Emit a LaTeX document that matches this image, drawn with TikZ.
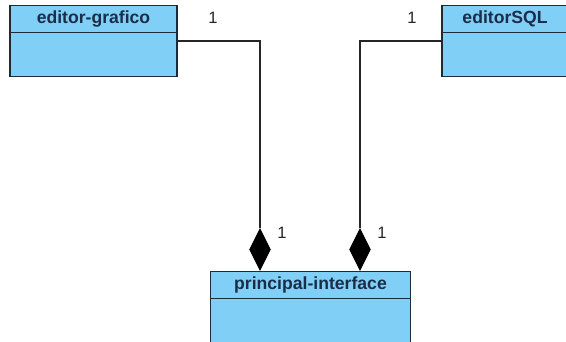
\documentclass[tikz,border=0pt]{standalone}
\usepackage{fontspec}
\setmainfont{Liberation Sans}
\usetikzlibrary{shapes.geometric}
\definecolor{classfill}{HTML}{80CFF7}
\definecolor{classline}{HTML}{1C2B3C}
\definecolor{classtext}{HTML}{1B2D48}
\tikzset{
  classfont/.style={font=\fontsize{17.6}{19}\selectfont\bfseries, text=classtext},
  classhead/.style={draw=classline, fill=classfill, line width=1.3pt,
    minimum height=27pt, inner sep=0pt, anchor=north, classfont},
  classbody/.style={draw=classline, fill=classfill, line width=1.3pt,
    inner sep=0pt, anchor=north},
  link/.style={draw=black!85, line width=1.2pt},
  compo/.style={diamond, fill=black, draw=black, inner sep=0pt,
    minimum width=21pt, minimum height=42pt, aspect=0.5},
  mult/.style={font=\fontsize{16.5}{18}\selectfont, text=black!85}
}
\begin{document}
\begin{tikzpicture}[x=1pt,y=-1pt]
\useasboundingbox (0,0) rectangle (566,341);
\clip (0,0) rectangle (566,341);
\fill[white] (0,0) rectangle (566,341);

% class editor-grafico
\node[classbody, minimum width=167pt, minimum height=44pt] (egbody) at (93.5,32) {};
\node[classhead, minimum width=167pt] (eghead) at (93.5,5) {editor-grafico};

% class editorSQL (runs past the right edge)
\node[classbody, minimum width=160pt, minimum height=44pt] (sqlbody) at (522,32) {};
\node[classhead, minimum width=160pt] (sqlhead) at (522,5) {};
\node[classfont] (sqlname) at (505,18.5) {editorSQL};

% class principal-interface (runs past the bottom edge)
\node[classbody, minimum width=200pt, minimum height=60pt] (pibody) at (310.5,298) {};
\node[classhead, minimum width=200pt] (pihead) at (310.5,271) {principal-interface};

% composition diamonds
\node[compo] (d1) at (260,249.5) {};
\node[compo] (d2) at (360,249.5) {};

% connectors
\draw[link] (egbody.east |- 0,41) -| (d1.north);
\draw[link] (sqlbody.west |- 0,41) -| (d2.north);

% multiplicities
\node[mult] (m1) at (213,18) {1};
\node[mult] (m2) at (412,18) {1};
\node[mult] (m3) at (282,233) {1};
\node[mult] (m4) at (382,233) {1};
\end{tikzpicture}
\end{document}
